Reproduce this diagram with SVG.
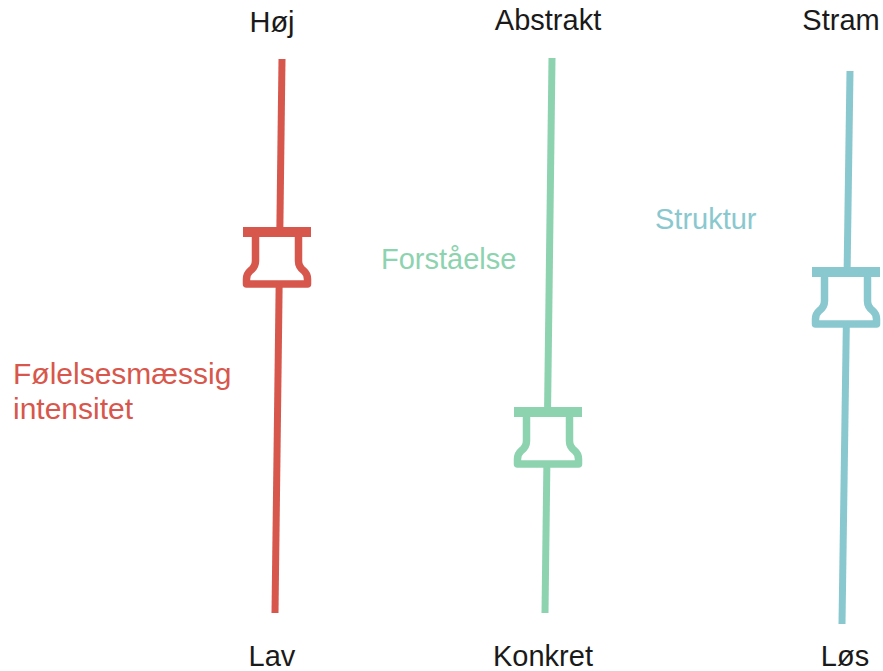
<svg xmlns="http://www.w3.org/2000/svg" xmlns:xlink="http://www.w3.org/1999/xlink" width="883" height="671" viewBox="0 0 883 671">
<style>
text{font-family:"Liberation Sans",Arial,sans-serif;font-size:29px}
.end{fill:#1a1a1a;text-anchor:middle}
.track{stroke-width:7;fill:none}
.pinbody{fill:#fff;stroke-width:7.5;stroke-linejoin:round}
.red{fill:#d8574c;stroke:#d8574c}
.green{fill:#8dd3b0;stroke:#8dd3b0}
.teal{fill:#8ac8cf;stroke:#8ac8cf}
</style>
<defs>
<g id="pin">
<rect x="-34" y="0" width="68" height="10" stroke="none"/>
<path class="pinbody" d="M -21.5 10 V 34 Q -21.5 40 -27 44 Q -30.5 47 -30.5 52 V 57 H 30.5 V 52 Q 30.5 47 27 44 Q 21.5 40 21.5 34 V 10"/>
</g>
</defs>
<rect width="883" height="671" fill="#fff"/>
<g id="connectors">
<line class="track red" x1="282" y1="59" x2="275" y2="613"/>
<line class="track green" x1="552" y1="58" x2="545" y2="613"/>
<line class="track teal" x1="850" y1="71" x2="842" y2="624"/>
</g>
<g id="slider-intensitet">
<text class="end" x="272" y="32">Høj</text>
<text class="end" x="272" y="666">Lav</text>
<text x="13" y="384" fill="#d8574c" stroke="none" style="font-size:30px">Følelsesmæssig</text>
<text x="13" y="419" fill="#d8574c" stroke="none" style="font-size:30px">intensitet</text>
<use xlink:href="#pin" href="#pin" class="red" transform="translate(277,227)"/>
</g>
<g id="slider-forstaaelse">
<text class="end" x="548" y="30">Abstrakt</text>
<text class="end" x="543" y="666">Konkret</text>
<text x="381" y="269" fill="#8dd3b0" stroke="none">Forståelse</text>
<use xlink:href="#pin" href="#pin" class="green" transform="translate(548,407)"/>
</g>
<g id="slider-struktur">
<text class="end" x="841" y="30">Stram</text>
<text class="end" x="845" y="666">Løs</text>
<text x="655" y="229" fill="#8ac8cf" stroke="none">Struktur</text>
<use xlink:href="#pin" href="#pin" class="teal" transform="translate(846,267)"/>
</g>
</svg>
